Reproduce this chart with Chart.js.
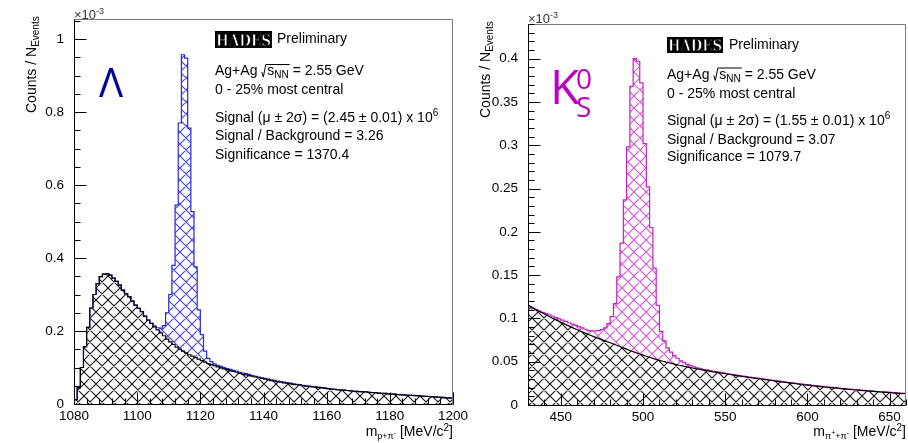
<!DOCTYPE html>
<html>
<head>
<meta charset="utf-8">
<title>HADES Ag+Ag 2.55 GeV: Lambda and K0S invariant mass</title>
<script src="https://cdn.jsdelivr.net/npm/chart.js@4.4.0/dist/chart.umd.min.js"></script>
<style>
  html, body { margin: 0; padding: 0; background: #fff; }
  #wrap { position: relative; width: 908px; height: 443px; overflow: hidden; }
  #lambdaChart { position: absolute; left: 0; top: 0; }
  #k0Chart { position: absolute; left: 454px; top: 0; z-index: 1; }
</style>
</head>
<body>
<div id="wrap">
  <canvas id="lambdaChart" width="480" height="443"></canvas>
  <canvas id="k0Chart" width="454" height="443"></canvas>
</div>
<script>
// p + pi- invariant mass, counts / N_events in units of 1e-3, 1 MeV bins from 1080
const LAMBDA_BIN_START = 1080;
const LAMBDA_BIN_WIDTH = 1;
const LAMBDA_TOTAL = [
  0.012, 0.044, 0.100, 0.157, 0.210, 0.263, 0.300, 0.330, 0.349, 0.356,
  0.357, 0.353, 0.345, 0.336, 0.326, 0.312, 0.302, 0.294, 0.282, 0.271,
  0.262, 0.253, 0.241, 0.230, 0.221, 0.214, 0.209, 0.208, 0.215, 0.250,
  0.300, 0.380, 0.545, 0.770, 0.957, 0.948, 0.756, 0.527, 0.376, 0.258,
  0.190, 0.145, 0.125, 0.116, 0.110, 0.106, 0.103, 0.100, 0.097, 0.095,
  0.092, 0.090, 0.087, 0.085, 0.083, 0.081, 0.078, 0.076, 0.074, 0.072,
  0.070, 0.068, 0.066, 0.065, 0.063, 0.061, 0.060, 0.058, 0.057, 0.055,
  0.054, 0.053, 0.051, 0.050, 0.049, 0.048, 0.047, 0.046, 0.045, 0.044,
  0.042, 0.041, 0.040, 0.039, 0.0385, 0.038, 0.037, 0.0365, 0.0355, 0.035,
  0.034, 0.0335, 0.033, 0.032, 0.0315, 0.031, 0.030, 0.0295, 0.029, 0.028,
  0.0275, 0.027, 0.026, 0.0255, 0.025, 0.0245, 0.024, 0.0235, 0.023, 0.022,
  0.0215, 0.021, 0.0205, 0.020, 0.0195, 0.019, 0.018, 0.0175, 0.017, 0.0165
];
const LAMBDA_BKG = [
  0.012, 0.044, 0.100, 0.157, 0.210, 0.263, 0.300, 0.330, 0.349, 0.356,
  0.357, 0.353, 0.345, 0.336, 0.326, 0.312, 0.302, 0.294, 0.282, 0.271,
  0.262, 0.253, 0.241, 0.230, 0.221, 0.211, 0.203, 0.195, 0.187, 0.178,
  0.170, 0.163, 0.156, 0.150, 0.145, 0.140, 0.135, 0.131, 0.127, 0.123,
  0.119, 0.115, 0.111, 0.108, 0.105, 0.102, 0.099, 0.096, 0.094, 0.091,
  0.089, 0.087, 0.084, 0.082, 0.080, 0.078, 0.076, 0.074, 0.072, 0.070,
  0.068, 0.066, 0.064, 0.063, 0.061, 0.060, 0.058, 0.057, 0.055, 0.054,
  0.053, 0.052, 0.050, 0.049, 0.048, 0.047, 0.046, 0.045, 0.044, 0.043,
  0.042, 0.041, 0.040, 0.039, 0.038, 0.038, 0.037, 0.036, 0.035, 0.035,
  0.034, 0.033, 0.033, 0.032, 0.031, 0.031, 0.030, 0.029, 0.029, 0.028,
  0.027, 0.027, 0.026, 0.025, 0.025, 0.024, 0.024, 0.023, 0.023, 0.022,
  0.021, 0.021, 0.020, 0.020, 0.019, 0.018, 0.018, 0.017, 0.017, 0.016
];
const LAMBDA_X_TICKS = [1080, 1100, 1120, 1140, 1160, 1180, 1200];
const LAMBDA_Y_TICKS = [0, 0.2, 0.4, 0.6, 0.8, 1];

// pi+ + pi- invariant mass, 2 MeV bins from 430; background fit sampled on the bin edges
const K0_BIN_START = 430;
const K0_BIN_WIDTH = 2;
const K0_TOTAL = [
  0.112, 0.111, 0.110, 0.1085, 0.107, 0.1055, 0.104, 0.1025, 0.101, 0.0995,
  0.098, 0.0965, 0.095, 0.0935, 0.092, 0.0905, 0.089, 0.0875, 0.086, 0.0855,
  0.0855, 0.086, 0.087, 0.089, 0.094, 0.102, 0.117, 0.148, 0.187, 0.237,
  0.298, 0.368, 0.400, 0.397, 0.372, 0.302, 0.252, 0.205, 0.158, 0.115,
  0.085, 0.074, 0.066, 0.061, 0.057, 0.054, 0.051, 0.049, 0.047, 0.0455,
  0.044, 0.043, 0.042, 0.041, 0.0405, 0.0398, 0.039, 0.0383, 0.0377, 0.037,
  0.0364, 0.0357, 0.0351, 0.0345, 0.0339, 0.0333, 0.0328, 0.0322, 0.0317, 0.0312,
  0.0307, 0.0302, 0.0296, 0.0291, 0.0285, 0.0280, 0.0275, 0.0270, 0.0265, 0.0260,
  0.0255, 0.0250, 0.0245, 0.0241, 0.0236, 0.0232, 0.0228, 0.0223, 0.0219, 0.0215,
  0.0211, 0.0207, 0.0203, 0.0200, 0.0196, 0.0192, 0.0189, 0.0185, 0.0182, 0.0178,
  0.0175, 0.0172, 0.0168, 0.0165, 0.0162, 0.0159, 0.0156, 0.0153, 0.0151, 0.0148,
  0.0145, 0.0142, 0.0140, 0.0137, 0.0135
];
const K0_BKG = [
  0.1155, 0.1133, 0.1112, 0.1091, 0.1071, 0.1050, 0.1031, 0.1011, 0.0992, 0.0974,
  0.0955, 0.0937, 0.0920, 0.0902, 0.0885, 0.0869, 0.0852, 0.0836, 0.0821, 0.0805,
  0.0790, 0.0775, 0.0761, 0.0746, 0.0732, 0.0719, 0.0704, 0.0690, 0.0676, 0.0660,
  0.0645, 0.0630, 0.0616, 0.0602, 0.0589, 0.0576, 0.0563, 0.0551, 0.0539, 0.0527,
  0.0516, 0.0505, 0.0495, 0.0486, 0.0477, 0.0468, 0.0459, 0.0451, 0.0443, 0.0435,
  0.0427, 0.0420, 0.0413, 0.0406, 0.0399, 0.0392, 0.0385, 0.0379, 0.0373, 0.0367,
  0.0361, 0.0355, 0.0349, 0.0343, 0.0337, 0.0331, 0.0326, 0.0320, 0.0315, 0.0310,
  0.0305, 0.0300, 0.0294, 0.0289, 0.0283, 0.0278, 0.0273, 0.0268, 0.0263, 0.0258,
  0.0253, 0.0248, 0.0243, 0.0239, 0.0234, 0.0230, 0.0226, 0.0221, 0.0217, 0.0213,
  0.0209, 0.0205, 0.0201, 0.0198, 0.0194, 0.0190, 0.0187, 0.0183, 0.0180, 0.0176,
  0.0173, 0.0170, 0.0166, 0.0163, 0.0160, 0.0157, 0.0154, 0.0151, 0.0149, 0.0146,
  0.0143, 0.0140, 0.0138, 0.0135, 0.0133, 0.0130
];
const K0_X_TICKS = [450, 500, 550, 600, 650];
const K0_Y_TICKS = [0, 0.05, 0.1, 0.15, 0.2, 0.25, 0.3, 0.35, 0.4];

const FONT = "'Liberation Sans', Arial, Helvetica, sans-serif";
const font = size => size + 'px ' + FONT;

// histogram outline: drop from zero at the low edge, one point per bin, close at the high edge
function stepPoints(start, width, values) {
  const pts = [{ x: start, y: 0 }];
  values.forEach((v, i) => pts.push({ x: start + i * width, y: v }));
  pts.push({ x: start + values.length * width, y: values[values.length - 1] });
  return pts;
}

function edgePoints(start, width, values) {
  return values.map((v, i) => ({ x: start + i * width, y: v }));
}

// ROOT style 3144 cross hatch on white
function hatch(ctx, color, lw) {
  const s = 12;
  const tile = document.createElement('canvas');
  tile.width = tile.height = s;
  const g = tile.getContext('2d');
  g.fillStyle = '#fff';
  g.fillRect(0, 0, s, s);
  g.strokeStyle = color;
  g.lineWidth = lw;
  g.beginPath();
  for (let k = -1; k <= 1; k++) {
    g.moveTo(k * s - 1, -1); g.lineTo(k * s + s + 1, s + 1);
    g.moveTo(k * s + s + 1, -1); g.lineTo(k * s - 1, s + 1);
  }
  g.stroke();
  return ctx.createPattern(tile, 'repeat');
}

// text runs with sub/superscripts: {t, f (size), dy (baseline shift)}, {radical: n} covers next n runs
const RADICAL_W = 6;
function drawRich(ctx, x, y, parts, align) {
  const widths = parts.map(p => {
    if (p.radical) return RADICAL_W;
    ctx.font = font(p.f || 14);
    return ctx.measureText(p.t).width;
  });
  if (align === 'right') x -= widths.reduce((a, b) => a + b, 0);
  parts.forEach((p, i) => {
    if (p.radical) {
      let span = 0;
      for (let k = 1; k <= p.radical; k++) span += widths[i + k];
      ctx.save();
      ctx.lineWidth = 1;
      ctx.strokeStyle = ctx.fillStyle;
      ctx.beginPath();
      ctx.moveTo(x + 0.5, y - 3);
      ctx.lineTo(x + 2, y + 2);
      ctx.lineTo(x + 4.5, y - 10.5);
      ctx.lineTo(x + RADICAL_W + span + 1, y - 10.5);
      ctx.stroke();
      ctx.restore();
    } else {
      ctx.font = font(p.f || 14);
      ctx.fillText(p.t, x, y + (p.dy || 0));
    }
    x += widths[i];
  });
}

// frame plus ticks pointing into the pad, drawn over the hatching
function rootFrame(cfg) {
  return {
    id: 'rootFrame',
    afterDatasetsDraw(chart) {
      const { ctx, chartArea: a, scales: { x, y } } = chart;
      const L = Math.round(a.left) + 0.5, R = Math.round(a.right) - 0.5;
      const T = Math.round(a.top) + 0.5, B = Math.round(a.bottom) + 0.5;
      ctx.save();
      ctx.lineWidth = 1;
      ctx.strokeStyle = '#7a7a7a';
      ctx.beginPath();
      ctx.moveTo(L, T); ctx.lineTo(R, T); ctx.lineTo(R, B);
      ctx.stroke();

      ctx.strokeStyle = '#000';
      ctx.beginPath();
      ctx.moveTo(L, T); ctx.lineTo(L, B); ctx.lineTo(R, B);
      x.ticks.forEach(t => {
        const px = Math.round(x.getPixelForValue(t.value)) + 0.5;
        ctx.moveTo(px, B); ctx.lineTo(px, B - 12);
      });
      y.ticks.forEach(t => {
        const py = Math.round(y.getPixelForValue(t.value)) + 0.5;
        ctx.moveTo(L, py); ctx.lineTo(L + 12, py);
      });
      const nx = Math.round((x.max - x.min) / cfg.xMinor);
      for (let i = 0; i <= nx; i++) {
        const px = Math.round(x.getPixelForValue(x.min + i * cfg.xMinor)) + 0.5;
        ctx.moveTo(px, B); ctx.lineTo(px, B - 6);
      }
      const ny = Math.floor((y.max - y.min) / cfg.yMinor + 1e-6);
      for (let i = 0; i <= ny; i++) {
        const py = Math.round(y.getPixelForValue(y.min + i * cfg.yMinor)) + 0.5;
        ctx.moveTo(L, py); ctx.lineTo(L + 6, py);
      }
      ctx.stroke();
      ctx.restore();
    }
  };
}

// axis titles, exponent, HADES label, fit summary and particle symbol
function panelText(cfg) {
  return {
    id: 'panelText',
    afterDraw(chart) {
      const { ctx, chartArea: a } = chart;
      const t = cfg.text;
      ctx.save();
      ctx.textBaseline = 'alphabetic';
      ctx.textAlign = 'left';

      ctx.fillStyle = '#333';
      drawRich(ctx, a.left, t.expY, [{ t: '\u00d710', f: 13 }, { t: '-3', f: 9, dy: -5 }]);

      ctx.fillStyle = '#000';
      ctx.save();
      ctx.translate(36, t.yTitleStart);
      ctx.rotate(-Math.PI / 2);
      drawRich(ctx, 0, 0, [{ t: 'Counts / N', f: 14 }, { t: 'Events', f: 10, dy: 3 }]);
      ctx.restore();

      drawRich(ctx, a.right, 435.5, t.xTitle, 'right');

      // HADES logo
      const lg = t.logo;
      ctx.fillStyle = '#000';
      ctx.fillRect(lg.x, lg.y, lg.w, lg.h);
      ctx.font = "bold 17px 'DejaVu Serif', 'Liberation Serif', serif";
      ctx.textAlign = 'center';
      ctx.fillStyle = '#fff';
      ctx.strokeStyle = '#000';
      ctx.lineWidth = 0.8;
      ctx.fillText('HADES', lg.x + lg.w / 2, lg.y + lg.h - 2.5, lg.w - 2);
      ctx.strokeText('HADES', lg.x + lg.w / 2, lg.y + lg.h - 2.5, lg.w - 2);
      ctx.textAlign = 'left';
      ctx.fillStyle = '#000';
      ctx.font = font(14);
      ctx.fillText('Preliminary', t.prelim.x, t.prelim.y);

      t.lines.forEach(line => drawRich(ctx, t.infoX, line.y, line.parts));

      ctx.fillStyle = t.symbol.color;
      t.symbol.runs.forEach(r => {
        ctx.font = r.f + "px 'Open Sans', 'Noto Sans', sans-serif";
        ctx.fillText(r.t, r.x, r.y);
      });
      ctx.restore();
    }
  };
}

function infoLines(ys, signal, sb, signif) {
  return [
    { y: ys[0], parts: [{ t: 'Ag+Ag ' }, { t: '', f: 14 }, { radical: 2 }, { t: 's' }, { t: 'NN', f: 10, dy: 3 }, { t: ' = 2.55 GeV' }] },
    { y: ys[1], parts: [{ t: '0 - 25% most central' }] },
    { y: ys[2], parts: [{ t: 'Signal (\u03bc \u00b1 2\u03c3) = (' + signal + ' \u00b1 0.01) x 10' }, { t: '6', f: 10, dy: -6 }] },
    { y: ys[3], parts: [{ t: 'Signal / Background = ' + sb }] },
    { y: ys[4], parts: [{ t: 'Significance = ' + signif }] }
  ];
}

function makePanel(canvasId, cfg) {
  const ctx = document.getElementById(canvasId).getContext('2d');
  const tickFont = { family: FONT, size: 13.5 };
  return new Chart(ctx, {
    type: 'line',
    data: {
      datasets: [
        {
          label: 'background',
          data: cfg.bkg,
          stepped: cfg.bkgStepped,
          borderColor: '#000',
          borderWidth: 1.2,
          backgroundColor: hatch(ctx, 'rgba(0,0,0,0.9)', 1.15),
          fill: 'origin',
          pointRadius: 0
        },
        {
          label: 'signal + background',
          data: cfg.total,
          stepped: true,
          borderColor: cfg.lineColor,
          borderWidth: 1.2,
          backgroundColor: hatch(ctx, cfg.hatchColor, 1.1),
          fill: 'origin',
          pointRadius: 0
        }
      ]
    },
    options: {
      responsive: false,
      animation: false,
      events: [],
      layout: { padding: cfg.padding },
      plugins: {
        legend: { display: false },
        tooltip: { enabled: false },
        filler: { drawTime: 'beforeDatasetsDraw' }
      },
      scales: {
        x: {
          type: 'linear',
          min: cfg.xMin,
          max: cfg.xMax,
          grid: { display: false },
          border: { display: false },
          afterBuildTicks: s => { s.ticks = cfg.xTicks.map(v => ({ value: v })); },
          afterFit: s => { s.height = cfg.xAxisHeight; },
          ticks: { font: tickFont, color: '#000', padding: -4, maxRotation: 0, autoSkip: false, callback: v => String(v) }
        },
        y: {
          type: 'linear',
          min: 0,
          max: cfg.yMax,
          grid: { display: false },
          border: { display: false },
          afterBuildTicks: s => { s.ticks = cfg.yTicks.map(v => ({ value: v })); },
          afterFit: s => { s.width = 74; },
          ticks: { font: tickFont, color: '#000', padding: 2, autoSkip: false, callback: v => String(v) }
        }
      }
    },
    plugins: [rootFrame(cfg), panelText(cfg)]
  });
}

makePanel('lambdaChart', {
  total: stepPoints(LAMBDA_BIN_START, LAMBDA_BIN_WIDTH, LAMBDA_TOTAL),
  bkg: stepPoints(LAMBDA_BIN_START, LAMBDA_BIN_WIDTH, LAMBDA_BKG),
  bkgStepped: true,
  lineColor: 'rgb(40,40,225)',
  hatchColor: 'rgba(45,45,215,0.9)',
  xMin: 1080, xMax: 1200, yMax: 1.055,
  xTicks: LAMBDA_X_TICKS, yTicks: LAMBDA_Y_TICKS,
  xMinor: 4, yMinor: 0.05,
  padding: { top: 19, right: 27, left: 0, bottom: 0 },
  xAxisHeight: 39,
  text: {
    expY: 18.5,
    yTitleStart: 113,
    xTitle: [{ t: 'm' }, { t: 'p+\u03c0', f: 9, dy: 3 }, { t: '-', f: 7, dy: -1 }, { t: ' [MeV/c' }, { t: '2', f: 10, dy: -5 }, { t: ']' }],
    logo: { x: 215, y: 31, w: 57, h: 17 },
    prelim: { x: 277, y: 43 },
    infoX: 215,
    lines: infoLines([75, 93.5, 122, 140, 158.5], '2.45', '3.26', '1370.4'),
    symbol: { color: '#0000a0', runs: [{ t: '\u039b', f: 40, x: 99, y: 97 }] }
  }
});

makePanel('k0Chart', {
  total: stepPoints(K0_BIN_START, K0_BIN_WIDTH, K0_TOTAL),
  bkg: edgePoints(K0_BIN_START, K0_BIN_WIDTH, K0_BKG),
  bkgStepped: false,
  lineColor: 'rgb(200,30,200)',
  hatchColor: 'rgba(205,60,205,0.9)',
  xMin: 430, xMax: 660, yMax: 0.44,
  xTicks: K0_X_TICKS, yTicks: K0_Y_TICKS,
  xMinor: 10, yMinor: 0.01,
  padding: { top: 24, right: 2, left: 0, bottom: 0 },
  xAxisHeight: 38,
  text: {
    expY: 23,
    yTitleStart: 118,
    xTitle: [{ t: 'm' }, { t: '\u03c0', f: 9, dy: 3 }, { t: '+', f: 7, dy: -1 }, { t: '+\u03c0', f: 9, dy: 3 }, { t: '-', f: 7, dy: -1 }, { t: ' [MeV/c' }, { t: '2', f: 10, dy: -5 }, { t: ']' }],
    logo: { x: 213, y: 37, w: 56, h: 16 },
    prelim: { x: 275, y: 48.5 },
    infoX: 213,
    lines: infoLines([78.5, 97.5, 125, 143.5, 161], '1.55', '3.07', '1079.7'),
    symbol: {
      color: '#c000c0',
      runs: [
        { t: 'K', f: 48, x: 96, y: 103.5 },
        { t: '0', f: 28, x: 122, y: 88.5 },
        { t: 'S', f: 28, x: 122, y: 117 }
      ]
    }
  }
});
</script>
</body>
</html>
